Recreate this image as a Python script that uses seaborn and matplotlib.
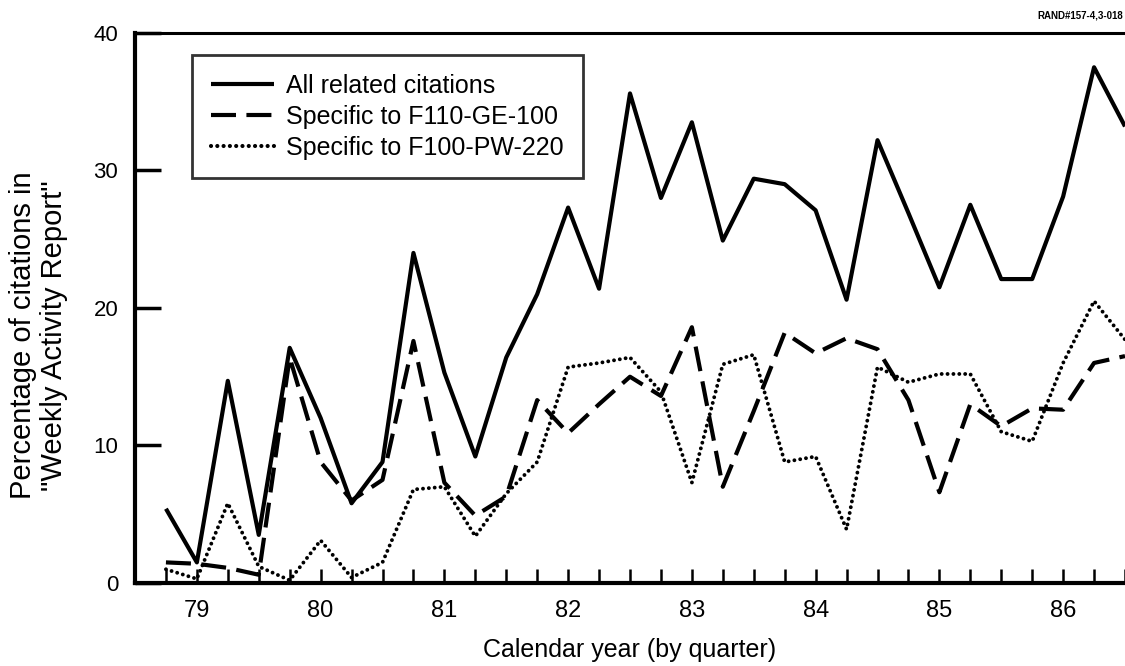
import numpy as np
import pandas as pd
import seaborn as sns
import matplotlib.pyplot as plt

# quarterly values, first point is the quarter before '79'
quarters = list(range(32))
all_related = [5.4, 1.5, 14.7, 3.5, 17.1, 12.0, 5.8, 8.8, 24.0, 15.3, 9.2, 16.4,
               21.0, 27.3, 21.4, 35.6, 28.0, 33.5, 24.9, 29.4, 29.0, 27.1, 20.6, 32.2,
               26.9, 21.5, 27.5, 22.1, 22.1, 28.1, 37.5, 33.2]
f110 = [1.5, 1.4, 1.1, 0.6, 16.4, 8.8, 6.0, 7.5, 17.6, 7.3, 4.9, 6.3,
        13.3, 10.9, 13.0, 15.0, 13.6, 18.6, 7.0, 12.5, 18.2, 16.7, 17.8, 17.0,
        13.3, 6.6, 13.0, 11.4, 12.7, 12.6, 16.0, 16.5]
f100 = [1.0, 0.3, 5.8, 1.2, 0.2, 3.1, 0.4, 1.5, 6.8, 7.0, 3.4, 6.5,
        8.8, 15.7, 16.0, 16.4, 13.9, 7.3, 15.9, 16.6, 8.8, 9.2, 3.9, 15.7,
        14.6, 15.2, 15.2, 11.0, 10.3, 16.0, 20.5, 17.7]
series_names = ["All related citations", "Specific to F110-GE-100", "Specific to F100-PW-220"]
year_labels = ["79", "80", "81", "82", "83", "84", "85", "86"]
year_pos = [1, 5, 9, 13, 17, 21, 25, 29]

df = pd.DataFrame({
    "quarter": quarters * 3,
    "value": all_related + f110 + f100,
    "series": [series_names[0]] * 32 + [series_names[1]] * 32 + [series_names[2]] * 32,
})

sns.set_theme(style="ticks", rc={"text.color": "black", "axes.labelcolor": "black",
                                 "xtick.color": "black", "ytick.color": "black",
                                 "axes.edgecolor": "black"})
plt.rcParams['font.family'] = ['Liberation Sans', 'DejaVu Sans']

fig = plt.figure(figsize=(11.25, 6.66), dpi=100)
ax = fig.add_axes([0.12, 0.1246, 0.88, 0.826])

sns.lineplot(data=df, x="quarter", y="value", hue="series", style="series",
             palette=["black", "black", "black"],
             dashes=["", (6, 2.5), (0.01, 1.5)], linewidth=3.0, ax=ax, legend=True)
for ln in ax.lines:
    ln.set_solid_capstyle("butt")
ax.lines[1].set_dash_capstyle("butt")
ax.lines[2].set_linewidth(2.8)
ax.lines[2].set_dash_capstyle("round")

ax.set_xlim(-1, 31)
ax.set_ylim(0, 40)
ax.set_xticks(year_pos)
ax.set_xticklabels(year_labels)
ax.set_xticks(quarters, minor=True)
ax.set_yticks([0, 10, 20, 30, 40])
ax.tick_params(axis="x", which="both", direction="in", length=10, width=1.8,
               labelsize=17, pad=12, color="black")
ax.tick_params(axis="y", direction="in", length=19, width=2.5, labelsize=16, pad=12)

for s in ["left", "bottom"]:
    ax.spines[s].set_linewidth(3)
ax.spines["top"].set_linewidth(2.2)
ax.spines["right"].set_visible(False)

ax.set_xlabel("Calendar year (by quarter)", fontsize=18, labelpad=12)
ax.set_ylabel("Percentage of citations in\n\"Weekly Activity Report\"", fontsize=21,
              linespacing=1.1)
ax.yaxis.set_label_coords(-0.068, 0.45)

leg = ax.legend(loc="upper left", bbox_to_anchor=(0.058, 0.96), borderaxespad=0,
                fontsize=18, handlelength=2.5, handletextpad=0.5, labelspacing=0.28,
                frameon=True, fancybox=False, title=None, borderpad=0.75)
leg.get_frame().set_edgecolor("black")
leg.get_frame().set_linewidth(2)
for h in leg.get_lines():
    h.set_linewidth(3)
leg.get_lines()[2].set_dash_capstyle("round")

fig.text(0.998, 0.977, "RAND#157-4,3-018", ha="right", va="center",
         fontsize=7, fontweight="bold")

plt.savefig("out.png", dpi=100)
